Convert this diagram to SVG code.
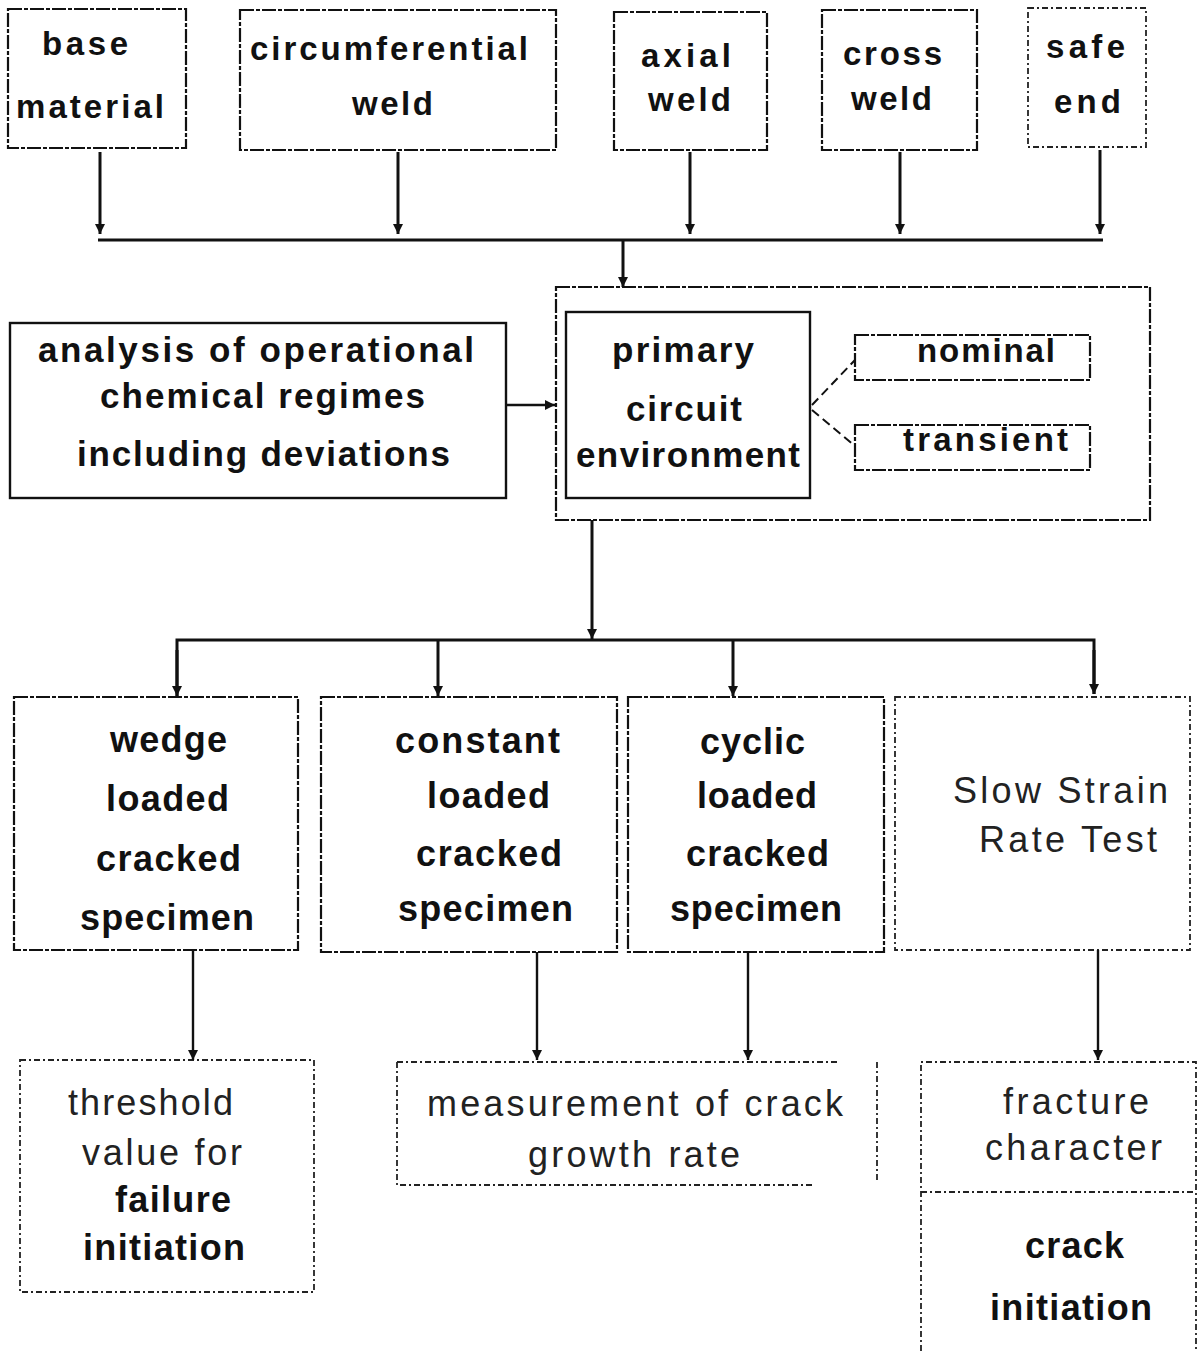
<svg xmlns="http://www.w3.org/2000/svg" width="1200" height="1351" viewBox="0 0 1200 1351">
<defs>
<style>
.bx{fill:none;stroke:#111;stroke-width:2.2;stroke-dasharray:14 2 4 2}
.bs{fill:none;stroke:#111;stroke-width:2.4}
.bd{fill:none;stroke:#222;stroke-width:1.8;stroke-dasharray:6 3 2 3}
.cn{fill:none;stroke:#111;stroke-width:3}
.cl{fill:none;stroke:#111;stroke-width:2.4}
.dl{fill:none;stroke:#111;stroke-width:2;stroke-dasharray:9 5}
text{font-family:"Liberation Sans",Arial,sans-serif;fill:#111;font-weight:bold}
.t32{font-size:33px}
.t34{font-size:35px}
.t36{font-size:36px}
.lt{font-weight:normal;fill:#222;font-size:36px}
</style>
<marker id="ah" markerWidth="12" markerHeight="12" refX="10" refY="6" orient="auto" markerUnits="userSpaceOnUse">
<path d="M0,1 L10,6 L0,11 Z" fill="#111"/>
</marker>
</defs>

<g id="base-material">
<rect class="bx" x="8" y="9" width="178" height="139"/>
<text class="t32" x="42" y="55" textLength="86" lengthAdjust="spacing">base</text>
<text class="t32" x="16" y="118" textLength="148" lengthAdjust="spacing">material</text>
</g>
<g id="circumferential-weld">
<rect class="bx" x="240" y="10" width="316" height="140"/>
<text class="t32" x="250" y="60" textLength="278" lengthAdjust="spacing">circumferential</text>
<text class="t32" x="352" y="115" textLength="81" lengthAdjust="spacing">weld</text>
</g>
<g id="axial-weld">
<rect class="bx" x="614" y="12" width="153" height="138"/>
<text class="t32" x="641" y="67" textLength="90" lengthAdjust="spacing">axial</text>
<text class="t32" x="648" y="111" textLength="83" lengthAdjust="spacing">weld</text>
</g>
<g id="cross-weld">
<rect class="bx" x="822" y="10" width="155" height="140"/>
<text class="t32" x="843" y="65" textLength="99" lengthAdjust="spacing">cross</text>
<text class="t32" x="851" y="110" textLength="81" lengthAdjust="spacing">weld</text>
</g>
<g id="safe-end">
<rect class="bd" x="1028" y="8" width="118" height="139"/>
<text class="t32" x="1046" y="58" textLength="79" lengthAdjust="spacing">safe</text>
<text class="t32" x="1054" y="113" textLength="67" lengthAdjust="spacing">end</text>
</g>

<g id="analysis">
<rect class="bs" x="10" y="323" width="496" height="175"/>
<text class="t34" x="38" y="362" textLength="436" lengthAdjust="spacing">analysis of operational</text>
<text class="t34" x="100" y="408" textLength="325" lengthAdjust="spacing">chemical regimes</text>
<text class="t34" x="77" y="466" textLength="373" lengthAdjust="spacing">including deviations</text>
</g>

<g id="environment-group">
<rect class="bx" x="556" y="287" width="594" height="233"/>
</g>
<g id="primary-circuit-environment">
<rect class="bs" x="566" y="312" width="244" height="186"/>
<text class="t34" x="612" y="362" textLength="142" lengthAdjust="spacing">primary</text>
<text class="t34" x="626" y="421" textLength="116" lengthAdjust="spacing">circuit</text>
<text class="t34" x="576" y="467" textLength="224" lengthAdjust="spacing">environment</text>
</g>
<g id="nominal">
<rect class="bx" x="855" y="335" width="235" height="45"/>
<text class="t32" x="917" y="362" textLength="138" lengthAdjust="spacing">nominal</text>
</g>
<g id="transient">
<rect class="bx" x="855" y="425" width="235" height="45"/>
<text class="t32" x="903" y="451" textLength="165" lengthAdjust="spacing">transient</text>
</g>

<g id="wedge">
<rect class="bx" x="14" y="697" width="284" height="253"/>
<text class="t36" x="110" y="752" textLength="117" lengthAdjust="spacing">wedge</text>
<text class="t36" x="106" y="811" textLength="123" lengthAdjust="spacing">loaded</text>
<text class="t36" x="96" y="871" textLength="145" lengthAdjust="spacing">cracked</text>
<text class="t36" x="80" y="930" textLength="174" lengthAdjust="spacing">specimen</text>
</g>
<g id="constant">
<rect class="bx" x="321" y="697" width="296" height="255"/>
<text class="t36" x="395" y="753" textLength="165" lengthAdjust="spacing">constant</text>
<text class="t36" x="427" y="808" textLength="123" lengthAdjust="spacing">loaded</text>
<text class="t36" x="416" y="866" textLength="146" lengthAdjust="spacing">cracked</text>
<text class="t36" x="398" y="921" textLength="175" lengthAdjust="spacing">specimen</text>
</g>
<g id="cyclic">
<rect class="bx" x="628" y="697" width="256" height="255"/>
<text class="t36" x="700" y="754" textLength="105" lengthAdjust="spacing">cyclic</text>
<text class="t36" x="697" y="808" textLength="120" lengthAdjust="spacing">loaded</text>
<text class="t36" x="686" y="866" textLength="143" lengthAdjust="spacing">cracked</text>
<text class="t36" x="670" y="921" textLength="172" lengthAdjust="spacing">specimen</text>
</g>
<g id="slow-strain-rate-test">
<rect class="bd" x="895" y="697" width="295" height="253"/>
<text class="lt" x="953" y="803" textLength="215" lengthAdjust="spacing">Slow Strain</text>
<text class="lt" x="979" y="852" textLength="178" lengthAdjust="spacing">Rate Test</text>
</g>

<g id="threshold">
<rect class="bd" x="20" y="1060" width="294" height="232"/>
<text class="lt" x="68" y="1115" textLength="165" lengthAdjust="spacing">threshold</text>
<text class="lt" x="82" y="1165" textLength="160" lengthAdjust="spacing">value for</text>
<text class="t36" x="115" y="1212" textLength="116" lengthAdjust="spacing">failure</text>
<text class="t36" x="83" y="1260" textLength="162" lengthAdjust="spacing">initiation</text>
</g>
<g id="measurement">
<path class="bd" d="M397,1062 H840 M397,1062 V1185 H815 M877,1062 V1183"/>
<text class="lt" x="427" y="1116" textLength="416" lengthAdjust="spacing">measurement of crack</text>
<text class="lt" x="528" y="1167" textLength="212" lengthAdjust="spacing">growth rate</text>
</g>
<g id="fracture-crack">
<path class="bd" d="M921,1351 V1062 H1196 V1351 M921,1192 H1196"/>
<text class="lt" x="1003" y="1114" textLength="146" lengthAdjust="spacing">fracture</text>
<text class="lt" x="985" y="1160" textLength="177" lengthAdjust="spacing">character</text>
<text class="t36" x="1025" y="1258" textLength="99" lengthAdjust="spacing">crack</text>
<text class="t36" x="990" y="1320" textLength="162" lengthAdjust="spacing">initiation</text>
</g>

<g id="connectors">
<line class="cn" x1="100" y1="152" x2="100" y2="234" marker-end="url(#ah)"/>
<line class="cn" x1="398" y1="152" x2="398" y2="234" marker-end="url(#ah)"/>
<line class="cn" x1="690" y1="152" x2="690" y2="234" marker-end="url(#ah)"/>
<line class="cn" x1="900" y1="152" x2="900" y2="234" marker-end="url(#ah)"/>
<line class="cn" x1="1100" y1="150" x2="1100" y2="234" marker-end="url(#ah)"/>
<line class="cn" x1="98" y1="240" x2="1103" y2="240"/>
<line class="cn" x1="623" y1="240" x2="623" y2="287" marker-end="url(#ah)"/>
<line class="cl" x1="506" y1="405" x2="555" y2="405" marker-end="url(#ah)"/>
<path class="dl" d="M812,405 L855,360 M812,410 L855,446"/>
<line class="cn" x1="592" y1="520" x2="592" y2="639" marker-end="url(#ah)"/>
<path class="cn" d="M177,696 V640 H1094 V694"/>
<line class="cn" x1="177" y1="650" x2="177" y2="696" marker-end="url(#ah)"/>
<line class="cn" x1="438" y1="640" x2="438" y2="696" marker-end="url(#ah)"/>
<line class="cn" x1="733" y1="640" x2="733" y2="696" marker-end="url(#ah)"/>
<line class="cn" x1="1094" y1="650" x2="1094" y2="694" marker-end="url(#ah)"/>
<line class="cl" x1="193" y1="950" x2="193" y2="1060" marker-end="url(#ah)"/>
<line class="cl" x1="537" y1="952" x2="537" y2="1060" marker-end="url(#ah)"/>
<line class="cl" x1="748" y1="952" x2="748" y2="1060" marker-end="url(#ah)"/>
<line class="cl" x1="1098" y1="950" x2="1098" y2="1060" marker-end="url(#ah)"/>
</g>
</svg>
